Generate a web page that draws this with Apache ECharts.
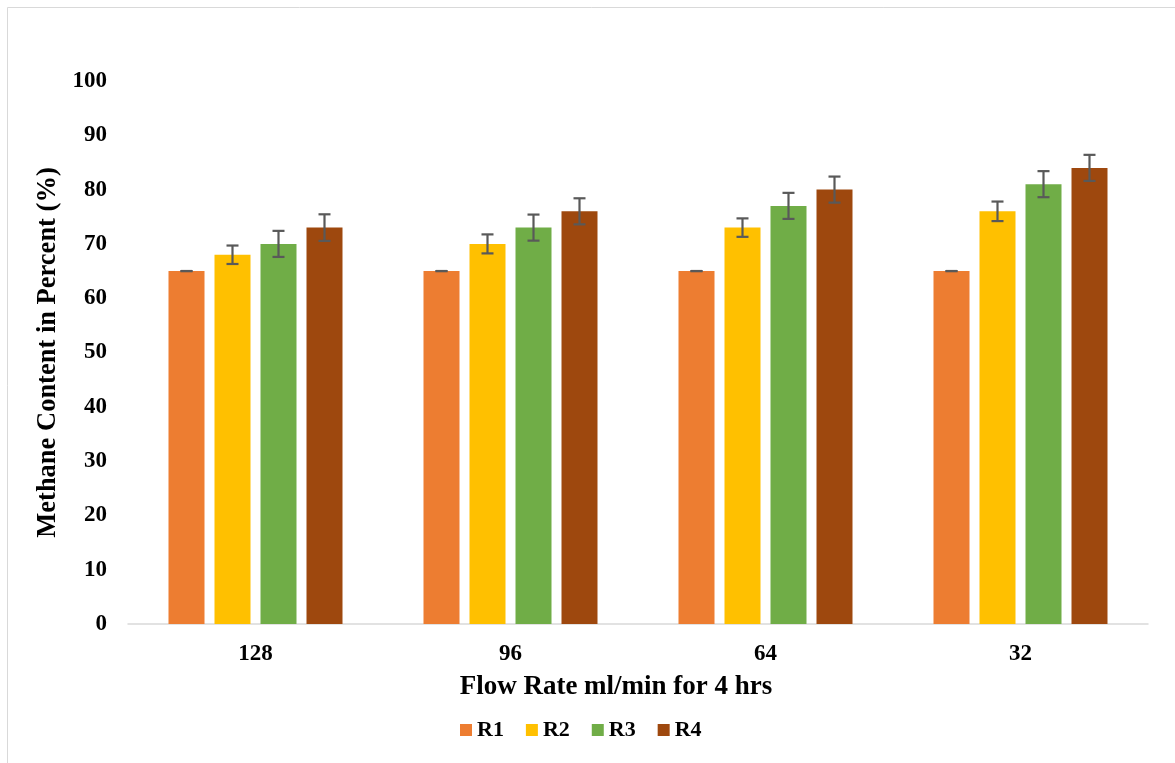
<!DOCTYPE html>
<html>
<head>
<meta charset="utf-8">
<script src="https://cdn.jsdelivr.net/npm/echarts@6/dist/echarts.min.js"></script>
<style>html,body{margin:0;padding:0;background:#fff}#c{width:1175px;height:763px}</style>
</head>
<body>
<div id="c"></div>
<script>
const categories = ['128', '96', '64', '32'];
const seriesNames = ['R1', 'R2', 'R3', 'R4'];
const r1 = [65, 65, 65, 65];
const r2 = [68, 70, 73, 76];
const r3 = [70, 73, 77, 81];
const r4 = [73, 76, 80, 84];
const r1Err = [0, 0, 0, 0];
const r2Err = [1.7, 1.75, 1.7, 1.8];
const r3Err = [2.4, 2.4, 2.4, 2.4];
const r4Err = [2.45, 2.4, 2.4, 2.4];
const yTicks = [0, 10, 20, 30, 40, 50, 60, 70, 80, 90, 100];

const values = [r1, r2, r3, r4];
const errors = [r1Err, r2Err, r3Err, r4Err];
const colors = ['#ED7D31', '#FFC000', '#70AD47', '#9E480E'];
const BAR_W = 36, BAR_GAP = 10;
const FONT = '"Liberation Serif", "Times New Roman", serif';

const chart = echarts.init(document.getElementById('c'));
const series = [];
seriesNames.forEach((n, i) => {
  series.push({
    name: n, type: 'bar', data: values[i], barWidth: BAR_W,
    barGap: (BAR_GAP / BAR_W * 100) + '%',
    itemStyle: { color: colors[i] }
  });
});
seriesNames.forEach((n, i) => {
  const offset = (i - 1.5) * (BAR_W + BAR_GAP);
  series.push({
    type: 'custom', name: n + ' err', silent: true, z: 10,
    data: categories.map((c, k) => [k, values[i][k] - errors[i][k], values[i][k] + errors[i][k]]),
    renderItem: function (params, api) {
      const lo = api.coord([api.value(0), api.value(1)]);
      const hi = api.coord([api.value(0), api.value(2)]);
      const x = lo[0] + offset;
      const cap = 6;
      const style = { stroke: '#595959', lineWidth: 2.2 };
      return {
        type: 'group',
        children: [
          { type: 'line', shape: { x1: x, y1: lo[1], x2: x, y2: hi[1] }, style },
          { type: 'line', shape: { x1: x - cap, y1: lo[1], x2: x + cap, y2: lo[1] }, style },
          { type: 'line', shape: { x1: x - cap, y1: hi[1], x2: x + cap, y2: hi[1] }, style }
        ]
      };
    }
  });
});

chart.setOption({
  backgroundColor: '#fff',
  animation: false,
  textStyle: { fontFamily: FONT },
  graphic: [
    { type: 'line', shape: { x1: 7.5, y1: 7.5, x2: 1175, y2: 7.5 }, style: { stroke: '#D9D9D9', lineWidth: 1 } },
    { type: 'line', shape: { x1: 7.5, y1: 7.5, x2: 7.5, y2: 763 }, style: { stroke: '#D9D9D9', lineWidth: 1 } }
  ],
  grid: { left: 128, right: 27, top: 81, bottom: 139, containLabel: false },
  legend: {
    data: seriesNames, bottom: 17, left: 455,
    itemWidth: 12, itemHeight: 12, itemGap: 22,
    icon: 'rect',
    textStyle: { fontFamily: FONT, fontSize: 22, fontWeight: 'bold', color: '#000', padding: [0, 0, 0, 0] }
  },
  xAxis: {
    type: 'category', data: categories,
    name: 'Flow Rate ml/min for 4 hrs', nameLocation: 'middle', nameGap: 50,
    nameTextStyle: { fontFamily: FONT, fontSize: 27, fontWeight: 'bold', color: '#000', padding: [0, 44, 0, 0] },
    axisLine: { lineStyle: { color: '#D9D9D9', width: 1.5 } },
    axisTick: { show: false },
    axisLabel: { fontFamily: FONT, fontSize: 23, fontWeight: 'bold', color: '#000', margin: 19 }
  },
  yAxis: {
    type: 'value', min: 0, max: 100, interval: 10,
    name: 'Methane Content in Percent (%)', nameLocation: 'middle', nameGap: 65, nameRotate: 90,
    nameTextStyle: { fontFamily: FONT, fontSize: 26.5, fontWeight: 'bold', color: '#000' },
    axisLine: { show: false }, axisTick: { show: false },
    splitLine: { show: false },
    axisLabel: { fontFamily: FONT, fontSize: 23, fontWeight: 'bold', color: '#000', margin: 21,
      formatter: v => yTicks.includes(v) ? String(v) : '' }
  },
  series: series
});
</script>
</body>
</html>
